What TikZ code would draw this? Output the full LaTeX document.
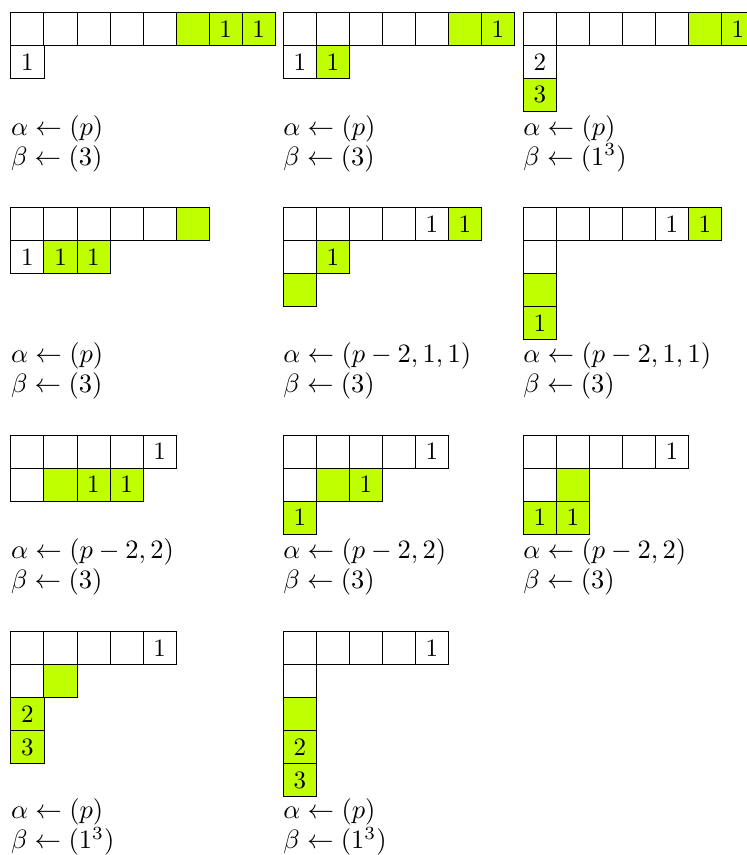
\documentclass[tikz,border=0pt]{standalone}
\definecolor{cellgreen}{RGB}{191,255,0}
\newcommand\tabpanel[4]{%
  \begin{scope}[shift={(#2,#3)}]
    \foreach \r/\c/\s/\t in {#4} {
      \node[\s] (#1-\r-\c) at ({(\c+0.5)*33},{(\r+0.5)*33}) {\t};
    }
  \end{scope}}
\newcommand\tablabel[6]{%
  \node[lab] (#1a) at (#2,#3) {$\alpha \leftarrow #5$};
  \node[lab] (#1b) at (#2,#4) {$\beta \leftarrow #6$};}
\begin{document}
\begin{tikzpicture}[x=0.4pt,y=-0.4pt,
  wc/.style={draw=black, line width=0.4pt, minimum size=13.2pt, inner sep=0pt, outer sep=0pt, fill=white},
  gc/.style={wc, fill=cellgreen},
  lab/.style={anchor=base west, inner sep=0pt, outer sep=0pt, scale=1.06}]
\useasboundingbox (0,0) rectangle (747,855);
% Row 1
\tabpanel{P1}{11}{12.3}{0/0/wc/{},0/1/wc/{},0/2/wc/{},0/3/wc/{},0/4/wc/{},0/5/gc/{},0/6/gc/1,0/7/gc/1,1/0/wc/1}
\tabpanel{P2}{283.3}{12.3}{0/0/wc/{},0/1/wc/{},0/2/wc/{},0/3/wc/{},0/4/wc/{},0/5/gc/{},0/6/gc/1,1/0/wc/1,1/1/gc/1}
\tabpanel{P3}{523.3}{12.3}{0/0/wc/{},0/1/wc/{},0/2/wc/{},0/3/wc/{},0/4/wc/{},0/5/gc/{},0/6/gc/1,1/0/wc/2,2/0/gc/3}
\tablabel{L1}{11}{135.4}{165.4}{(p)}{(3)}
\tablabel{L2}{283.3}{135.4}{165.4}{(p)}{(3)}
\tablabel{L3}{523.3}{135.4}{165.4}{(p)}{(1^3)}
% Row 2
\tabpanel{P4}{11}{207.3}{0/0/wc/{},0/1/wc/{},0/2/wc/{},0/3/wc/{},0/4/wc/{},0/5/gc/{},1/0/wc/1,1/1/gc/1,1/2/gc/1}
\tabpanel{P5}{283.3}{207.3}{0/0/wc/{},0/1/wc/{},0/2/wc/{},0/3/wc/{},0/4/wc/1,0/5/gc/1,1/0/wc/{},1/1/gc/1,2/0/gc/{}}
\tabpanel{P6}{523.3}{207.3}{0/0/wc/{},0/1/wc/{},0/2/wc/{},0/3/wc/{},0/4/wc/1,0/5/gc/1,1/0/wc/{},2/0/gc/{},3/0/gc/1}
\tablabel{L4}{11}{362}{392}{(p)}{(3)}
\tablabel{L5}{283.3}{362}{392}{(p-2,1,1)}{(3)}
\tablabel{L6}{523.3}{362}{392}{(p-2,1,1)}{(3)}
% Row 3
\tabpanel{P7}{11}{435}{0/0/wc/{},0/1/wc/{},0/2/wc/{},0/3/wc/{},0/4/wc/1,1/0/wc/{},1/1/gc/{},1/2/gc/1,1/3/gc/1}
\tabpanel{P8}{283.3}{435}{0/0/wc/{},0/1/wc/{},0/2/wc/{},0/3/wc/{},0/4/wc/1,1/0/wc/{},1/1/gc/{},1/2/gc/1,2/0/gc/1}
\tabpanel{P9}{523.3}{435}{0/0/wc/{},0/1/wc/{},0/2/wc/{},0/3/wc/{},0/4/wc/1,1/0/wc/{},1/1/gc/{},2/0/gc/1,2/1/gc/1}
\tablabel{L7}{11}{558.8}{588.8}{(p-2,2)}{(3)}
\tablabel{L8}{283.3}{558.8}{588.8}{(p-2,2)}{(3)}
\tablabel{L9}{523.3}{558.8}{588.8}{(p-2,2)}{(3)}
% Row 4
\tabpanel{P10}{11}{631.7}{0/0/wc/{},0/1/wc/{},0/2/wc/{},0/3/wc/{},0/4/wc/1,1/0/wc/{},1/1/gc/{},2/0/gc/2,3/0/gc/3}
\tabpanel{P11}{283.3}{631.7}{0/0/wc/{},0/1/wc/{},0/2/wc/{},0/3/wc/{},0/4/wc/1,1/0/wc/{},2/0/gc/{},3/0/gc/2,4/0/gc/3}
\tablabel{L10}{11}{818.8}{848.8}{(p)}{(1^3)}
\tablabel{L11}{283.3}{818.8}{848.8}{(p)}{(1^3)}
\end{tikzpicture}
\end{document}
